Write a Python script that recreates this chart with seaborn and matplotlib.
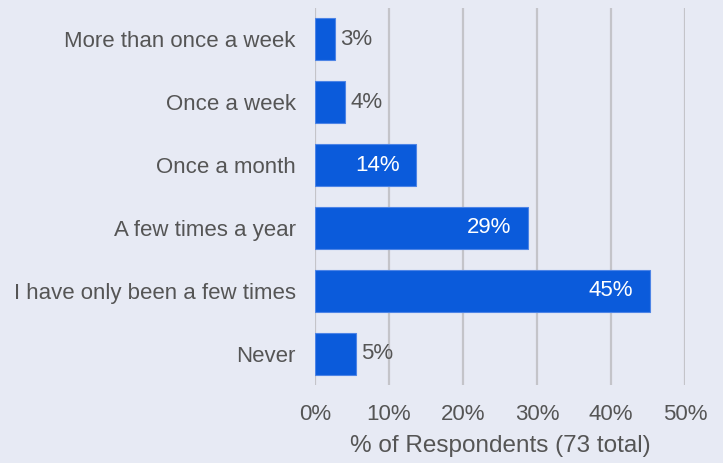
import pandas as pd
import seaborn as sns
import matplotlib.pyplot as plt

categories = [
    'More than once a week',
    'Once a week',
    'Once a month',
    'A few times a year',
    'I have only been a few times',
    'Never',
]
counts = [2, 3, 10, 21, 33, 4]
TOTAL = 73
pct = [c / TOTAL * 100 for c in counts]
xticks = [0, 10, 20, 30, 40, 50]

BG = '#e7eaf4'
BAR = '#0b5bdb'
TEXT = '#555555'
FS = 16


def main():
    sns.set_theme(style='white')
    plt.rcParams['font.family'] = ['Liberation Sans', 'DejaVu Sans']

    df = pd.DataFrame({'category': categories, 'pct': pct})

    fig = plt.figure(figsize=(7.23, 4.63), dpi=100, facecolor=BG)
    ax = fig.add_axes([315 / 723, 78 / 463, 370 / 723, 377 / 463])
    ax.set_facecolor(BG)

    sns.barplot(data=df, x='pct', y='category', orient='h', color=BAR,
                saturation=1, width=0.67, edgecolor='#4d84e6', linewidth=0.8,
                ax=ax, zorder=3)

    ax.set_xlim(0, 50)
    ax.set_ylim(5.5, -0.5)
    ax.set_xticks(xticks)
    ax.set_xticklabels([f'{t}%' for t in xticks], fontsize=FS, color=TEXT)
    ax.tick_params(axis='y', labelsize=FS, labelcolor=TEXT, length=0, pad=14)
    ax.tick_params(axis='x', length=0, pad=14)
    ax.grid(axis='x', color='#c4c4c9', linewidth=1.6, zorder=0)
    for s in ax.spines.values():
        s.set_visible(False)

    ax.set_ylabel('')
    ax.set_xlabel(f'% of Respondents ({TOTAL} total)', fontsize=17.5,
                  color=TEXT, labelpad=7)

    for i, v in enumerate(pct):
        label = f'{round(v)}%'
        if v >= 10:
            ax.text(v - 2.2, i, label, ha='right', va='center', color='white',
                    fontsize=FS, zorder=4)
        else:
            ax.text(v + 0.7, i, label, ha='left', va='center', color=TEXT,
                    fontsize=FS, zorder=4)

    fig.savefig('out.png', facecolor=BG)


if __name__ == '__main__':
    main()
